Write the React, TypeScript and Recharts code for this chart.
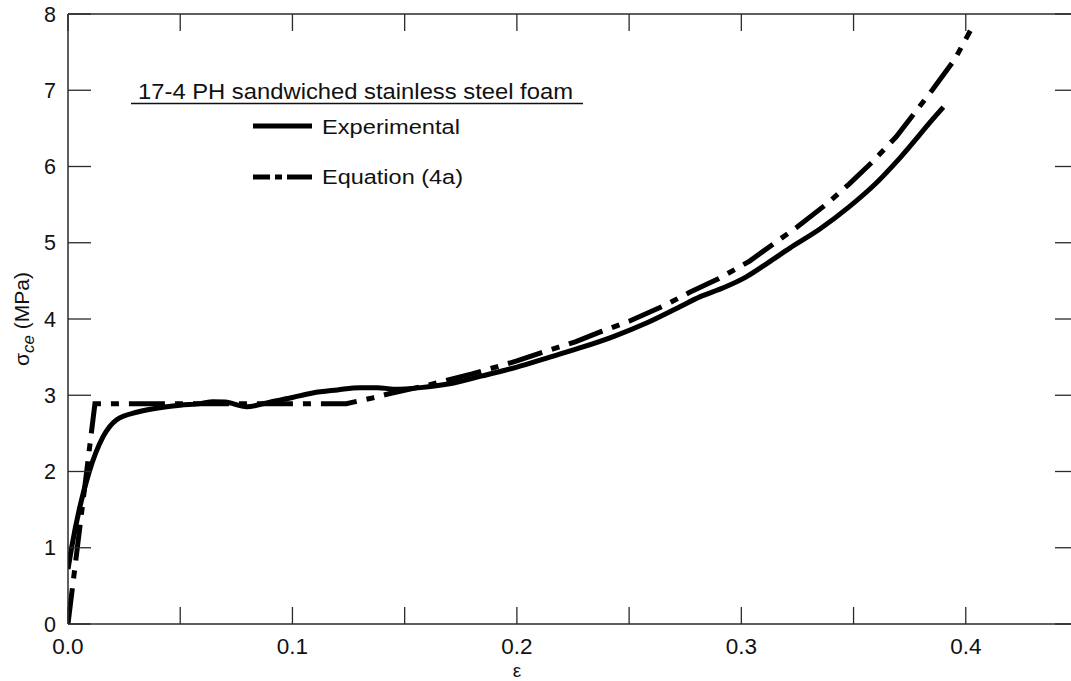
import React from 'react';
import { LineChart, Line, XAxis, YAxis } from 'recharts';

const experimentalStrain = [0, 0.0016, 0.005, 0.0095, 0.0157, 0.0217, 0.031, 0.044, 0.05, 0.059, 0.0646, 0.07, 0.0796, 0.09, 0.1, 0.109, 0.12, 0.13, 0.138, 0.145, 0.157, 0.17, 0.184, 0.2, 0.213, 0.228, 0.243, 0.258, 0.2726, 0.2815, 0.292, 0.302, 0.312, 0.3216, 0.335, 0.348, 0.36, 0.3706, 0.385, 0.39];
const experimentalStress = [0.72, 1.0, 1.5, 2.0, 2.46, 2.68, 2.78, 2.85, 2.87, 2.89, 2.915, 2.91, 2.85, 2.91, 2.97, 3.03, 3.07, 3.1, 3.1, 3.08, 3.1, 3.15, 3.25, 3.37, 3.485, 3.62, 3.77, 3.95, 4.16, 4.29, 4.41, 4.55, 4.74, 4.93, 5.18, 5.47, 5.78, 6.11, 6.61, 6.78];

const equationStrain = [0, 0.012, 0.124, 0.135, 0.143, 0.16, 0.18, 0.2, 0.21, 0.226, 0.238, 0.25, 0.266, 0.277, 0.29, 0.3037, 0.3145, 0.325, 0.3385, 0.348, 0.358, 0.369, 0.385, 0.395, 0.402];
const equationStress = [0, 2.89, 2.89, 2.96, 3.02, 3.13, 3.28, 3.45, 3.55, 3.7, 3.84, 3.97, 4.18, 4.35, 4.53, 4.76, 4.99, 5.21, 5.52, 5.77, 6.05, 6.39, 7.0, 7.4, 7.78];

const xTicks = [0, 0.05, 0.1, 0.15, 0.2, 0.25, 0.3, 0.35, 0.4, 0.45];
const xTickLabels = ['0.0', '', '0.1', '', '0.2', '', '0.3', '', '0.4', ''];
const yTicks = [0, 1, 2, 3, 4, 5, 6, 7, 8];

const legendTitle = '17-4 PH sandwiched stainless steel foam';
const seriesNames = ['Experimental', 'Equation (4a)'];

const experimentalData = experimentalStrain.map((x, i) => ({ x, y: experimentalStress[i] }));
const equationData = equationStrain.map((x, i) => ({ x, y: equationStress[i] }));

const AXIS = '#2a2a2a';
const TEXT = '#111';
const FONT = '"Liberation Sans", Arial, sans-serif';
const DASH = '36 10 8 10';

const LeftTick = (props: any) => {
  const { x, y, payload } = props;
  return (
    <g>
      <line x1={x} x2={x + 23} y1={y} y2={y} stroke={AXIS} strokeWidth={1.3} />
      <text x={x - 12} y={y} dy="0.36em" textAnchor="end" fontSize={21.5} fill={TEXT} fontFamily={FONT}>
        {payload.value}
      </text>
    </g>
  );
};

const RightTick = (props: any) => {
  const { x, y } = props;
  return <line x1={x - 23} x2={x} y1={y} y2={y} stroke={AXIS} strokeWidth={1.3} />;
};

const BottomTick = (props: any) => {
  const { x, y, index } = props;
  return (
    <g>
      <line x1={x} x2={x} y1={y - 17} y2={y} stroke={AXIS} strokeWidth={1.3} />
      <text x={x} y={y + 30} textAnchor="middle" fontSize={22.5} fill={TEXT} fontFamily={FONT}>
        {xTickLabels[index]}
      </text>
    </g>
  );
};

const TopTick = (props: any) => {
  const { x, y } = props;
  return <line x1={x} x2={x} y1={y} y2={y + 17} stroke={AXIS} strokeWidth={1.3} />;
};

const XLabel = (props: any) => {
  const vb = props.viewBox || { x: 68, y: 624, width: 1010 };
  return (
    <text x={vb.x + 449} y={vb.y + 52.5} textAnchor="middle" fontSize={19} fill={TEXT} fontFamily={FONT}>
      ε
    </text>
  );
};

const YLabel = (props: any) => {
  const vb = props.viewBox || { x: 0, y: 14, width: 68, height: 610 };
  const cx = 29;
  const cy = vb.y + vb.height / 2;
  return (
    <text
      x={cx}
      y={cy}
      transform={`rotate(-90 ${cx} ${cy})`}
      textAnchor="middle"
      fontSize={21}
      fill={TEXT}
      fontFamily={FONT}
    >
      <tspan>σ</tspan>
      <tspan fontSize={17} fontStyle="italic" dy={5}>ce</tspan>
      <tspan dy={-5}> (MPa)</tspan>
    </text>
  );
};

const LegendOverlay = () => (
  <svg
    width={1071}
    height={681}
    style={{ position: 'absolute', left: 0, top: 0, pointerEvents: 'none' }}
  >
    <text x={138} y={99} fontSize={21.5} fill={TEXT} fontFamily={FONT} textLength={435} lengthAdjust="spacingAndGlyphs">
      {legendTitle}
    </text>
    <line x1={131} x2={583} y1={103.5} y2={103.5} stroke={TEXT} strokeWidth={1.5} />
    <line x1={253} x2={312} y1={126} y2={126} stroke="#000" strokeWidth={5} />
    <text x={322} y={134} fontSize={20.5} fill={TEXT} fontFamily={FONT} textLength={138} lengthAdjust="spacingAndGlyphs">
      {seriesNames[0]}
    </text>
    <line x1={253} x2={312} y1={177} y2={177} stroke="#000" strokeWidth={5} strokeDasharray="17 5 7 5 25" />
    <text x={322} y={184} fontSize={20.5} fill={TEXT} fontFamily={FONT} textLength={141} lengthAdjust="spacingAndGlyphs">
      {seriesNames[1]}
    </text>
  </svg>
);

export default function App() {
  return (
    <div
      style={{
        position: 'absolute',
        left: 0,
        top: 0,
        width: 1071,
        height: 681,
        overflow: 'hidden',
        background: '#fff',
        fontFamily: FONT,
      }}
    >
      <LineChart width={1090} height={681} margin={{ top: 13, right: 11, bottom: 0, left: 0 }}>
        <XAxis
          xAxisId="bottom"
          dataKey="x"
          type="number"
          domain={[0, 0.45]}
          ticks={xTicks}
          interval={0}
          allowDataOverflow
          height={57}
          tickSize={0}
          tickMargin={0}
          tickLine={false}
          axisLine={{ stroke: AXIS, strokeWidth: 1.5 }}
          tick={<BottomTick />}
          label={<XLabel />}
        />
        <XAxis
          xAxisId="top"
          orientation="top"
          dataKey="x"
          type="number"
          domain={[0, 0.45]}
          ticks={xTicks}
          interval={0}
          allowDataOverflow
          height={1}
          tickSize={0}
          tickMargin={0}
          tickLine={false}
          axisLine={{ stroke: AXIS, strokeWidth: 1.5 }}
          tick={<TopTick />}
        />
        <YAxis
          yAxisId="left"
          type="number"
          domain={[0, 8]}
          ticks={yTicks}
          interval={0}
          allowDataOverflow
          width={68}
          tickSize={0}
          tickMargin={0}
          tickLine={false}
          axisLine={{ stroke: AXIS, strokeWidth: 1.5 }}
          tick={<LeftTick />}
          label={<YLabel />}
        />
        <YAxis
          yAxisId="right"
          orientation="right"
          type="number"
          domain={[0, 8]}
          ticks={yTicks}
          interval={0}
          allowDataOverflow
          width={1}
          tickSize={0}
          tickMargin={0}
          tickLine={false}
          axisLine={{ stroke: AXIS, strokeWidth: 1.5 }}
          tick={<RightTick />}
        />
        <Line
          xAxisId="bottom"
          yAxisId="left"
          data={experimentalData}
          dataKey="y"
          name={seriesNames[0]}
          type="monotone"
          stroke="#000"
          strokeWidth={5}
          dot={false}
          isAnimationActive={false}
        />
        <Line
          xAxisId="bottom"
          yAxisId="left"
          data={equationData}
          dataKey="y"
          name={seriesNames[1]}
          type="linear"
          stroke="#000"
          strokeWidth={5}
          strokeDasharray={DASH}
          dot={false}
          isAnimationActive={false}
        />
        <Line
          xAxisId="top"
          yAxisId="right"
          data={equationData}
          dataKey="y"
          stroke="none"
          strokeWidth={0}
          dot={false}
          legendType="none"
          isAnimationActive={false}
        />
      </LineChart>
      <LegendOverlay />
    </div>
  );
}
